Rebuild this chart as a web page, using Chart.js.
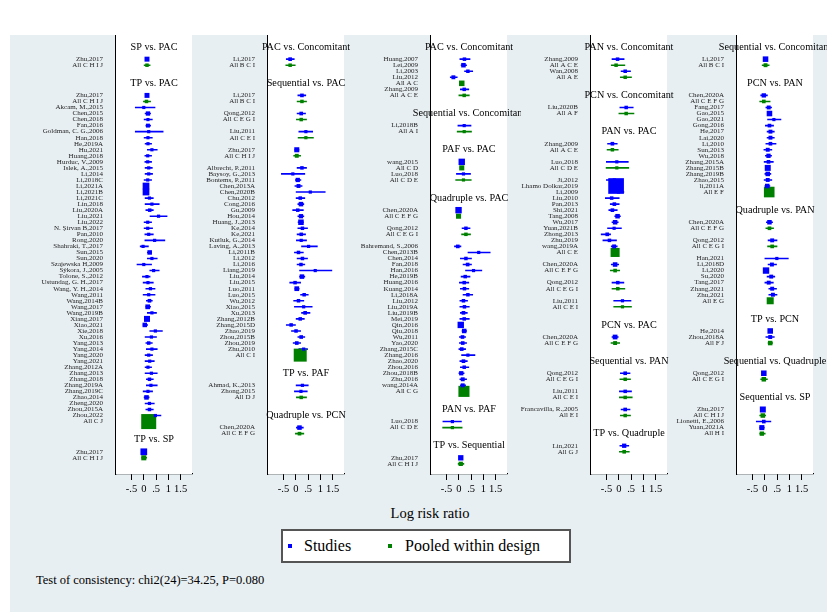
<!DOCTYPE html>
<html>
<head>
<meta charset="utf-8">
<script src="https://cdn.jsdelivr.net/npm/chart.js@4.4.1/dist/chart.umd.min.js"></script>
<style>
body { margin: 0; width: 827px; height: 612px; position: relative; overflow: hidden; background: #fff;
       font-family: "Liberation Serif", "Times New Roman", serif; }
#bg { position: absolute; left: 10px; top: 35px; right: 0; bottom: 0; background: #e8eff2; }
canvas { position: absolute; }
#xtitle { position: absolute; left: 330px; width: 200px; top: 503px; line-height: 20px; text-align: center; font-size: 14.5px; color: #000; }
#legend { position: absolute; left: 281px; top: 529px; width: 290px; height: 34px; box-sizing: border-box;
          border: 2px solid #555; background: #fff; }
#legend .mk { position: absolute; width: 4px; height: 4px; top: 13px; }
#legend .tx { position: absolute; top: 0; line-height: 30px; font-size: 16px; color: #000; white-space: nowrap; }
#note { position: absolute; left: 36px; top: 572px; line-height: 16px; font-size: 12.5px; color: #000; white-space: nowrap; }
</style>
</head>
<body>
<div id="bg"></div>
<div id="xtitle">Log risk ratio</div>
<div id="legend">
  <span class="mk" style="left:5px;background:#0000ff"></span><span class="tx" style="left:21px">Studies</span>
  <span class="mk" style="left:105px;background:#008000"></span><span class="tx" style="left:122px">Pooled within design</span>
</div>
<div id="note">Test of consistency: chi2(24)=34.25, P=0.080</div>
<script>
// x axis ticks
const xTickValues = [-0.5, 0, 0.5, 1, 1.5];
const xTickLabels = ['-.5', '0', '.5', '1', '1.5'];

// each panel: string = comparison title, null = spacer row,
// [label, log RR, lower, upper, weight]
const panel1 = [
  'SP vs. PAC',
  ['Zhu,2017', 0.13, 0.07, 0.20, 2.4],
  ['All C H I J', 0.13, 0.00, 0.27, 1.2],
  'TP vs. PAC',
  ['Zhu,2017', 0.13, 0.07, 0.20, 2.4],
  ['All C H I J', 0.11, -0.03, 0.29, 1.2],
  ['Akcam, M.,2015', 0.00, -0.36, 0.47, 1],
  ['Chen,2015', 0.17, 0.04, 0.29, 1.8],
  ['Chen,2018', 0.17, 0.00, 0.36, 1],
  ['Fan,2016', 0.17, 0.07, 0.29, 1.5],
  ['Goldman, C. G.,2006', 0.20, -0.36, 0.80, 1],
  ['Han,2018', 0.17, 0.00, 0.36, 1],
  ['He,2019A', 0.17, 0.04, 0.33, 1],
  ['Hu,2021', 0.33, 0.13, 0.56, 1],
  ['Huang,2018', 0.16, 0.03, 0.33, 1],
  ['Hurduc, V.,2009', 0.16, 0.03, 0.33, 1],
  ['Islek, A.,2015', 0.20, 0.04, 0.36, 1],
  ['Li,2014', 0.20, 0.04, 0.37, 1],
  ['Li,2018C', 0.16, 0.00, 0.33, 1],
  ['Li,2021A', 0.09, 0.00, 0.20, 4.4],
  ['Li,2021B', 0.09, 0.00, 0.20, 4.4],
  ['Li,2021C', 0.23, 0.04, 0.40, 1],
  ['Lin,2018', 0.33, 0.04, 0.64, 1],
  ['Liu,2020A', 0.24, 0.07, 0.40, 1.2],
  ['Liu,2021', 0.60, 0.24, 0.96, 1],
  ['Liu,2022', 0.16, 0.00, 0.33, 1],
  ['N. Şirvan B,2017', 0.16, 0.00, 0.37, 1],
  ['Pan,2010', 0.20, 0.03, 0.40, 1],
  ['Rong,2020', 0.44, 0.03, 0.87, 1],
  ['Shahraki, T.,2017', -0.03, -0.16, 0.20, 1],
  ['Sun,2015', 0.24, 0.13, 0.33, 2],
  ['Sun,2020', 0.33, 0.13, 0.56, 1],
  ['Szajewska H,2009', 0.00, -0.29, 0.33, 1],
  ['Sýkora, J.,2005', 0.40, 0.23, 0.64, 1],
  ['Tolone, S.,2012', 0.13, -0.07, 0.27, 1],
  ['Ustundag, G. H.,2017', 0.17, -0.04, 0.40, 1],
  ['Wang, Y. H.,2014', 0.27, 0.07, 0.47, 1],
  ['Wang,2011', 0.20, -0.04, 0.47, 1],
  ['Wang,2014B', 0.23, 0.09, 0.36, 1.3],
  ['Wang,2017', 0.16, 0.07, 0.29, 2.2],
  ['Wang,2019B', 0.33, 0.13, 0.53, 1],
  ['Xiang,2017', 0.13, 0.04, 0.24, 3.5],
  ['Xiao,2021', 0.04, -0.04, 0.17, 2],
  ['Xie,2018', 0.47, 0.23, 0.77, 1],
  ['Xu,2016', 0.31, 0.04, 0.53, 1],
  ['Yang,2013', 0.20, 0.07, 0.36, 1.2],
  ['Yang,2014', 0.33, 0.09, 0.56, 1],
  ['Yang,2020', 0.20, 0.04, 0.37, 1],
  ['Yang,2021', 0.24, 0.04, 0.44, 1],
  ['Zhang,2012A', 0.17, 0.04, 0.33, 1],
  ['Zhang,2013', 0.31, 0.04, 0.56, 1],
  ['Zhang,2018', 0.23, 0.09, 0.40, 1.2],
  ['Zhang,2019A', 0.29, 0.09, 0.56, 1],
  ['Zhang,2019C', 0.17, -0.04, 0.37, 1],
  ['Zhao,2014', 0.11, 0.00, 0.23, 2],
  ['Zheng,2020', 0.23, 0.04, 0.44, 1],
  ['Zhou,2015A', 0.23, 0.07, 0.40, 1.2],
  ['Zhou,2022', 0.47, 0.20, 0.71, 1],
  ['All C J', 0.20, 0.13, 0.27, 22],
  'TP vs. SP',
  ['Zhu,2017', 0.00, -0.07, 0.07, 4.4],
  ['All C H I J', 0.00, -0.10, 0.13, 2.5]
];

const panel2 = [
  'PAC vs. Concomitant',
  ['Li,2017', -0.23, -0.40, -0.05, 1.3],
  ['All B C I', -0.23, -0.42, -0.01, 1.2],
  'Sequential vs. PAC',
  ['Li,2017', 0.25, 0.07, 0.42, 1.3],
  ['All B C I', 0.25, 0.04, 0.45, 1.2],
  null,
  ['Qong,2012', 0.22, 0.04, 0.41, 1.3],
  ['All C E G I', 0.22, 0.01, 0.45, 1.2],
  null,
  ['Liu,2011', 0.41, 0.11, 0.70, 1],
  ['All C E I', 0.41, 0.08, 0.73, 1],
  null,
  ['Zhu,2017', 0.04, -0.05, 0.14, 2.5],
  ['All C H I J', 0.04, -0.10, 0.21, 1.5],
  null,
  ['Albrecht, P.,2011', 0.25, 0.04, 0.45, 1.2],
  ['Baysoy, G.,2013', -0.12, -0.60, 0.38, 1],
  ['Bontems, P.,2011', 0.08, -0.03, 0.22, 1.8],
  ['Chen,2013A', 0.11, -0.05, 0.27, 1.5],
  ['Chen,2020B', 0.59, 0.00, 1.21, 1],
  ['Chu,2012', 0.18, 0.00, 0.38, 1.2],
  ['Cong,2016', 0.21, 0.07, 0.34, 2],
  ['Gu,2009', 0.08, -0.14, 0.32, 1.2],
  ['Hou,2014', 0.21, 0.07, 0.34, 1.8],
  ['Huang, J.,2013', 0.21, 0.08, 0.32, 3],
  ['Ke,2014', 0.27, 0.07, 0.49, 1.2],
  ['Ke,2021', 0.22, 0.04, 0.41, 1.2],
  ['Kutluk, G.,2014', 0.22, 0.01, 0.45, 1],
  ['Laving, A.,2013', 0.52, 0.22, 0.89, 1],
  ['Li,2011B', 0.11, -0.07, 0.32, 1.2],
  ['Li,2012', 0.27, 0.04, 0.49, 1.2],
  ['Li,2016', 0.21, 0.04, 0.38, 1.2],
  ['Liang,2019', 0.79, 0.14, 1.48, 1],
  ['Liu,2014', 0.25, 0.14, 0.38, 2],
  ['Liu,2015', -0.03, -0.26, 0.21, 1.2],
  ['Luo,2011', 0.04, -0.05, 0.15, 2.2],
  ['Luo,2015', 0.34, 0.18, 0.52, 1.2],
  ['Wu,2012', 0.11, -0.10, 0.34, 1.2],
  ['Xiao,2015', 0.32, -0.07, 0.68, 1],
  ['Xu,2013', 0.38, 0.22, 0.59, 1.3],
  ['Zhang,2012B', 0.18, 0.00, 0.36, 1.2],
  ['Zhang,2015D', -0.19, -0.40, 0.00, 1.2],
  ['Zhao,2019', 0.01, -0.19, 0.21, 1.2],
  ['Zhou,2015B', 0.22, 0.07, 0.38, 1.3],
  ['Zhou,2019', 0.04, -0.12, 0.21, 1.3],
  ['Zhu,2010', 0.32, 0.11, 0.49, 1],
  ['All C I', 0.18, 0.10, 0.26, 16.5],
  'TP vs. PAF',
  ['Ahmad, K.,2013', 0.27, 0.00, 0.52, 1],
  ['Zhong,2015', 0.21, -0.07, 0.48, 1],
  ['All D J', 0.22, 0.01, 0.45, 1.2],
  'Quadruple vs. PCN',
  ['Chen,2020A', 0.15, 0.01, 0.32, 2],
  ['All C E F G', 0.15, -0.03, 0.34, 1.3]
];

const panel3 = [
  'PAC vs. Concomitant',
  ['Huang,2007', 0.23, 0.03, 0.47, 1.2],
  ['Lei,2009', 0.19, 0.08, 0.33, 2],
  ['Li,2003', 0.37, 0.22, 0.58, 1.2],
  ['Liu,2012', -0.22, -0.36, -0.05, 1.5],
  ['All A C', 0.12, 0.05, 0.20, 3],
  ['Zhang,2009', 0.22, 0.05, 0.42, 1.2],
  ['All A C E', 0.22, -0.01, 0.44, 1.2],
  'Sequential vs. Concomitant',
  ['Li,2018B', 0.22, -0.05, 0.51, 1],
  ['All A I', 0.22, -0.08, 0.53, 1],
  'PAF vs. PAC',
  ['wang,2015', 0.12, 0.05, 0.20, 4],
  ['All C D', 0.12, 0.04, 0.21, 2.5],
  ['Luo,2018', 0.19, -0.11, 0.49, 1],
  ['All C D E', 0.19, -0.14, 0.52, 1],
  'Quadruple vs. PAC',
  ['Chen,2020A', -0.01, -0.08, 0.07, 4],
  ['All C E F G', -0.01, -0.10, 0.08, 2.5],
  null,
  ['Qong,2012', 0.29, 0.12, 0.47, 1.2],
  ['All C E G I', 0.29, 0.10, 0.49, 1.2],
  null,
  ['Bahremand, S.,2006', -0.04, -0.19, 0.10, 1.3],
  ['Chen,2013B', 0.81, 0.36, 1.29, 1],
  ['Chen,2014', 0.29, 0.05, 0.53, 1.2],
  ['Fan,2018', 0.36, 0.16, 0.53, 1.3],
  ['Han,2016', 0.60, 0.26, 0.95, 1],
  ['He,2019B', 0.26, 0.08, 0.47, 1.2],
  ['Huang,2016', 0.22, 0.01, 0.42, 1.2],
  ['Kuang,2014', 0.23, 0.05, 0.42, 1.2],
  ['Li,2018A', 0.37, 0.16, 0.58, 1.2],
  ['Liu,2012', 0.19, 0.03, 0.37, 1.2],
  ['Liu,2019A', 0.23, 0.03, 0.44, 1.2],
  ['Liu,2019B', 0.19, 0.05, 0.36, 1.3],
  ['Mei,2019', 0.22, 0.03, 0.44, 1.2],
  ['Qin,2016', 0.08, 0.00, 0.16, 4],
  ['Qiu,2018', 0.22, 0.12, 0.33, 2],
  ['Wu,2011', 0.15, 0.01, 0.29, 1.3],
  ['Yao,2020', 0.16, 0.01, 0.33, 1.3],
  ['Zhang,2015C', 0.12, -0.01, 0.29, 1.3],
  ['Zhang,2016', 0.37, 0.10, 0.67, 1],
  ['Zhao,2020', 0.19, 0.03, 0.36, 1.3],
  ['Zhou,2016', 0.22, 0.05, 0.42, 1.2],
  ['Zhou,2018B', 0.10, -0.01, 0.23, 1.8],
  ['Zhu,2016', 0.16, 0.03, 0.33, 1.5],
  ['wang,2014A', 0.16, 0.05, 0.29, 1.5],
  ['All C G', 0.21, 0.12, 0.29, 12],
  'PAN vs. PAF',
  ['Luo,2018', -0.26, -0.66, 0.12, 1],
  ['All C D E', -0.26, -0.67, 0.15, 1],
  'TP vs. Sequential',
  ['Zhu,2017', 0.08, 0.01, 0.15, 2.8],
  ['All C H I J', 0.08, -0.04, 0.22, 1.8]
];

const panel4 = [
  'PAN vs. Concomitant',
  ['Zhang,2009', -0.05, -0.29, 0.23, 1.2],
  ['All A C E', -0.11, -0.32, 0.26, 1.2],
  ['Wan,2008', 0.26, 0.08, 0.49, 1.2],
  ['All A E', 0.26, 0.05, 0.53, 1.2],
  'PCN vs. Concomitant',
  ['Liu,2020B', 0.30, 0.03, 0.60, 1.2],
  ['All A F', 0.30, -0.01, 0.63, 1.2],
  'PAN vs. PAC',
  ['Zhang,2009', -0.26, -0.47, -0.05, 1.3],
  ['All A C E', -0.26, -0.49, -0.01, 1.2],
  null,
  ['Luo,2018', -0.08, -0.52, 0.40, 1],
  ['All C D E', -0.08, -0.53, 0.42, 1],
  null,
  ['Ji,2012', -0.18, -0.52, 0.16, 1],
  ['Lhamo Dolkar,2019', -0.11, -0.20, -0.02, 24],
  ['Li,2009', -0.01, -0.26, 0.22, 1],
  ['Liu,2010', -0.29, -0.56, 0.03, 1.2],
  ['Pan,2013', -0.18, -0.36, 0.03, 1.3],
  ['Shi,2021', -0.26, -0.42, -0.05, 1.3],
  ['Tang,2008', -0.05, -0.18, 0.08, 2],
  ['Wu,2017', -0.15, -0.29, -0.01, 2],
  ['Yuan,2021B', -0.19, -0.47, 0.12, 1],
  ['Zhong,2013', -0.47, -0.73, -0.32, 1.3],
  ['Zhu,2019', -0.38, -0.66, -0.08, 1.2],
  ['wang,2019A', -0.19, -0.32, -0.05, 1.5],
  ['All C E', -0.15, -0.23, -0.07, 8],
  null,
  ['Chen,2020A', -0.15, -0.32, 0.01, 2],
  ['All C E F G', -0.15, -0.36, 0.05, 1.3],
  null,
  ['Qong,2012', -0.04, -0.29, 0.22, 1.2],
  ['All C E G I', -0.04, -0.29, 0.26, 1.2],
  null,
  ['Liu,2011', 0.15, -0.22, 0.51, 1],
  ['All C E I', 0.15, -0.22, 0.53, 1],
  'PCN vs. PAC',
  ['Chen,2020A', -0.15, -0.29, -0.01, 2.2],
  ['All C E F G', -0.15, -0.33, 0.05, 1.5],
  'Sequential vs. PAN',
  ['Qong,2012', 0.26, 0.05, 0.47, 1.3],
  ['All C E G I', 0.26, 0.03, 0.49, 1.2],
  null,
  ['Liu,2011', 0.26, 0.01, 0.53, 1.2],
  ['All C E I', 0.26, 0.01, 0.56, 1.2],
  null,
  ['Francavilla, R.,2005', 0.26, 0.08, 0.47, 1.3],
  ['All E I', 0.26, 0.05, 0.49, 1.2],
  'TP vs. Quadruple',
  ['Lin,2021', 0.22, 0.03, 0.42, 1.8],
  ['All G J', 0.22, 0.01, 0.44, 1.3]
];

const panel5 = [
  'Sequential vs. Concomitant',
  ['Li,2017', 0.03, -0.05, 0.11, 3],
  ['All B C I', 0.03, -0.12, 0.19, 1.5],
  'PCN vs. PAN',
  ['Chen,2020A', -0.04, -0.18, 0.12, 1.8],
  ['All C E F G', -0.04, -0.22, 0.23, 1.3],
  ['Fang,2017', 0.16, 0.03, 0.29, 1.5],
  ['Gao,2015', 0.19, 0.11, 0.27, 3],
  ['Gao,2021', 0.37, 0.10, 0.67, 1],
  ['Gong,2016', 0.19, 0.01, 0.37, 1.3],
  ['He,2017', 0.23, 0.08, 0.40, 1.5],
  ['Lai,2020', 0.23, 0.08, 0.40, 1.5],
  ['Li,2010', 0.23, 0.03, 0.47, 1.3],
  ['Sun,2013', 0.12, -0.05, 0.30, 1.5],
  ['Wu,2018', 0.15, 0.01, 0.29, 1.8],
  ['Zhang,2015A', 0.15, -0.04, 0.36, 1.3],
  ['Zhang,2015B', 0.12, 0.04, 0.20, 3.5],
  ['Zhang,2019B', 0.12, -0.01, 0.26, 2],
  ['Zhao,2015', 0.12, -0.04, 0.30, 1.5],
  ['li,2011A', 0.10, -0.01, 0.22, 2],
  ['All E F', 0.18, 0.09, 0.27, 11],
  'Quadruple vs. PAN',
  ['Chen,2020A', 0.19, 0.05, 0.33, 2],
  ['All C E F G', 0.19, 0.03, 0.37, 1.3],
  null,
  ['Qong,2012', 0.30, 0.12, 0.51, 1.5],
  ['All C E G I', 0.30, 0.10, 0.51, 1.3],
  null,
  ['Han,2021', 0.49, -0.01, 0.97, 1],
  ['Li,2018D', 0.29, 0.12, 0.49, 1.5],
  ['Li,2020', 0.05, -0.03, 0.14, 4],
  ['Su,2020', 0.26, 0.08, 0.42, 1.5],
  ['Tang,2017', 0.16, -0.01, 0.36, 1.5],
  ['Zhang,2021', 0.30, 0.15, 0.49, 1.5],
  ['Zhu,2021', 0.33, 0.15, 0.51, 1.5],
  ['All E G', 0.22, 0.15, 0.30, 4.8],
  'TP vs. PCN',
  ['He,2014', 0.22, 0.15, 0.29, 3],
  ['Zhou,2018A', 0.22, 0.03, 0.40, 1.5],
  ['All F J', 0.22, 0.12, 0.33, 2],
  'Sequential vs. Quadruple',
  ['Qong,2012', -0.04, -0.12, 0.04, 3],
  ['All C E G I', -0.04, -0.18, 0.12, 2],
  'Sequential vs. SP',
  ['Zhu,2017', -0.08, -0.16, 0.00, 3.5],
  ['All C H I J', -0.08, -0.22, 0.05, 2],
  ['Lionetti, E.,2006', -0.04, -0.36, 0.26, 1.3],
  ['Yuan,2021A', -0.12, -0.22, -0.01, 2.5],
  ['All H I', -0.12, -0.22, 0.03, 1.8]
];

const panels = [panel1, panel2, panel3, panel4, panel5];
const axisLeft = [116, 268, 431, 591, 737];

const BLUE = '#0000ff';
const GREEN = '#008000';
const FONT = '"Liberation Serif", "Times New Roman", serif';
const LABEL_W = 112, PLOT_W = 76, PAD_R = 14;
const PLOT_H = 439, XAXIS_H = 30;
const ROWS = 72.68;

// put titles, spacers and studies on row numbers
function layoutRows(entries) {
  const items = [], titles = [];
  let row = 0, last = null;
  entries.forEach(e => {
    if (typeof e === 'string') {
      const t = last === null ? 2 : last + 3;
      titles.push({ text: e, row: t });
      row = t + 2;
    } else if (e === null) {
      row += 1;
    } else {
      items.push({ label: e[0], est: e[1], lo: e[2], hi: e[3], w: e[4], row: row, pooled: e[0].indexOf('All ') === 0 });
      last = row;
      row += 1;
    }
  });
  return { items, titles };
}

function markerRadius(w) {
  const side = 3.2 * Math.sqrt(w);
  return side / Math.SQRT2;
}

function segments(list) {
  const out = [];
  list.forEach(d => {
    out.push({ x: d.lo, y: d.row }, { x: d.hi, y: d.row }, { x: null, y: null });
  });
  return out;
}

function buildPanel(idx) {
  const { items, titles } = layoutRows(panels[idx]);
  const canvas = document.createElement('canvas');
  canvas.width = LABEL_W + PLOT_W + PAD_R;
  canvas.height = PLOT_H + XAXIS_H;
  canvas.style.left = (axisLeft[idx] - LABEL_W) + 'px';
  canvas.style.top = '35px';
  document.body.appendChild(canvas);

  const study = items.filter(d => !d.pooled);
  const pooled = items.filter(d => d.pooled);

  const panelPaint = {
    id: 'panelPaint',
    beforeDatasetsDraw(chart) {
      const a = chart.chartArea, ctx = chart.ctx;
      ctx.save();
      ctx.fillStyle = '#fff';
      ctx.fillRect(a.left, a.top, a.right - a.left, a.bottom - a.top);
      ctx.restore();
    },
    afterDraw(chart) {
      const a = chart.chartArea, ctx = chart.ctx, y = chart.scales.y;
      ctx.save();
      ctx.font = '10.2px ' + FONT;
      ctx.fillStyle = '#000';
      ctx.textAlign = 'center';
      ctx.textBaseline = 'middle';
      titles.forEach(t => ctx.fillText(t.text, (a.left + a.right) / 2, y.getPixelForValue(t.row)));
      ctx.restore();
    }
  };

  new Chart(canvas, {
    type: 'scatter',
    data: {
      datasets: [
        { data: study.map(d => ({ x: d.est, y: d.row })), pointStyle: 'rect',
          pointRadius: study.map(d => markerRadius(d.w)), backgroundColor: BLUE, borderWidth: 0 },
        { data: pooled.map(d => ({ x: d.est, y: d.row })), pointStyle: 'rect',
          pointRadius: pooled.map(d => markerRadius(d.w)), backgroundColor: GREEN, borderWidth: 0 },
        { data: segments(study), showLine: true, spanGaps: false, borderColor: BLUE, borderWidth: 1.6, pointRadius: 0 },
        { data: segments(pooled), showLine: true, spanGaps: false, borderColor: GREEN, borderWidth: 1.6, pointRadius: 0 }
      ]
    },
    options: {
      responsive: false,
      animation: false,
      events: [],
      layout: { autoPadding: false, padding: { left: 0, right: PAD_R, top: 0, bottom: 0 } },
      plugins: { legend: { display: false }, tooltip: { enabled: false } },
      scales: {
        x: {
          type: 'linear', min: -1.13, max: 1.96, offset: false,
          afterBuildTicks: s => { s.ticks = xTickValues.map(v => ({ value: v })); },
          afterFit: s => { s.height = XAXIS_H; s.paddingLeft = 0; s.paddingRight = 0; },
          ticks: { callback: (v, i) => xTickLabels[i], autoSkip: false, maxRotation: 0,
                   font: { family: FONT, size: 10.5 }, color: '#000', padding: 3 },
          grid: { display: true, drawOnChartArea: false, drawTicks: true, tickLength: 6,
                  color: '#000', lineWidth: 1, offset: false },
          border: { display: true, color: '#000', width: 1.2 }
        },
        y: {
          type: 'linear', reverse: true, min: 0, max: ROWS, offset: false,
          afterBuildTicks: s => { s.ticks = items.map(d => ({ value: d.row })); },
          afterFit: s => { s.width = LABEL_W; s.paddingTop = 0; s.paddingBottom = 0; },
          ticks: { callback: (v, i) => items[i].label, autoSkip: false,
                   font: { family: FONT, size: 7 }, color: '#222', padding: 5 },
          grid: { display: false, offset: false },
          border: { display: true, color: '#000', width: 1.2 }
        }
      }
    },
    plugins: [panelPaint]
  });
}

panels.forEach((p, i) => buildPanel(i));
</script>
</body>
</html>
